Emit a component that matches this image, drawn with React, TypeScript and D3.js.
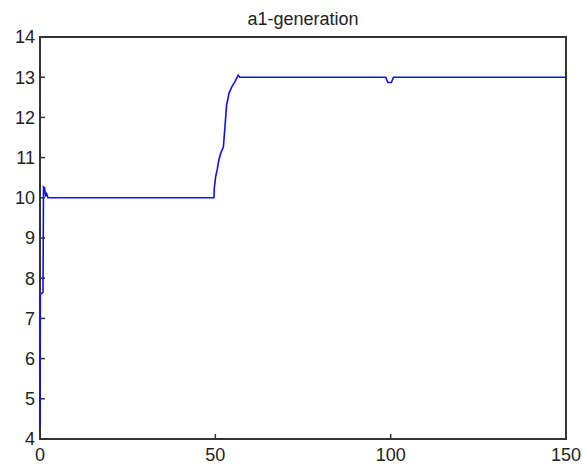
import React, { useEffect, useRef } from "react";
import * as d3 from "d3";

// a1-generation trace
const times = [
  0, 0.1, 0.85, 1.0, 1.3, 1.6, 1.9, 2.3, 49.6, 49.7, 50.1, 50.6, 51.0, 51.5,
  52.3, 52.75, 53.2, 53.9, 54.7, 55.6, 56.5, 57, 98.6, 99.2, 100.2, 100.8, 150,
];
const values = [
  4.3, 7.6, 7.65, 10.27, 10.25, 10.03, 10.1, 10.0, 10.0, 10.24, 10.53, 10.73,
  10.94, 11.1, 11.27, 11.77, 12.3, 12.6, 12.76, 12.89, 13.05, 13.0, 13.0,
  12.87, 12.87, 13.0, 13.0,
];
const xTicks = [0, 50, 100, 150];
const yTicks = [4, 5, 6, 7, 8, 9, 10, 11, 12, 13, 14];
const title = "a1-generation";

const App = () => {
  const ref = useRef<SVGSVGElement>(null);

  useEffect(() => {
    const svg = d3.select(ref.current);
    svg.selectAll("*").remove();

    const margin = { top: 37, left: 40, right: 16, bottom: 27 };
    const width = 582;
    const height = 466;
    const font = "'Liberation Sans', Arial, sans-serif";

    const x = d3
      .scaleLinear()
      .domain([0, 150])
      .range([margin.left, width - margin.right]);
    const y = d3
      .scaleLinear()
      .domain([4, 14])
      .range([height - margin.bottom, margin.top]);

    svg.append("rect").attr("width", width).attr("height", height).attr("fill", "#fff");

    // box
    svg
      .append("rect")
      .attr("x", x(0))
      .attr("y", y(14))
      .attr("width", x(150) - x(0))
      .attr("height", y(4) - y(14))
      .attr("fill", "none")
      .attr("stroke", "#333")
      .attr("stroke-width", 2);

    const tickLen = 5;

    const gx = svg.append("g");
    xTicks.forEach((t) => {
      gx.append("line")
        .attr("x1", x(t))
        .attr("x2", x(t))
        .attr("y1", y(4))
        .attr("y2", y(4) - tickLen)
        .attr("stroke", "#333")
        .attr("stroke-width", 1.5);
      gx.append("text")
        .attr("x", x(t))
        .attr("y", y(4) + 22)
        .attr("text-anchor", "middle")
        .attr("font-family", font)
        .attr("font-size", 18)
        .attr("fill", "#222")
        .text(t);
    });

    const gy = svg.append("g");
    yTicks.forEach((t) => {
      gy.append("line")
        .attr("x1", x(0))
        .attr("x2", x(0) + tickLen)
        .attr("y1", y(t))
        .attr("y2", y(t))
        .attr("stroke", "#333")
        .attr("stroke-width", 1.5);
      gy.append("text")
        .attr("x", x(0) - 5)
        .attr("y", y(t))
        .attr("dy", "0.36em")
        .attr("text-anchor", "end")
        .attr("font-family", font)
        .attr("font-size", 18)
        .attr("fill", "#222")
        .text(t);
    });

    const line = d3
      .line<number>()
      .x((d, i) => x(times[i]))
      .y((d) => y(d));

    svg
      .append("path")
      .datum(values)
      .attr("fill", "none")
      .attr("stroke", "#1010ff")
      .attr("stroke-width", 1.6)
      .attr("d", line);

    svg
      .append("text")
      .attr("x", (x(0) + x(150)) / 2)
      .attr("y", 25)
      .attr("text-anchor", "middle")
      .attr("font-family", font)
      .attr("font-size", 18)
      .attr("fill", "#222")
      .text(title);
  }, []);

  return (
    <svg
      ref={ref}
      width={582}
      height={466}
      style={{ position: "absolute", left: 0, top: 0 }}
    />
  );
};

export default App;
